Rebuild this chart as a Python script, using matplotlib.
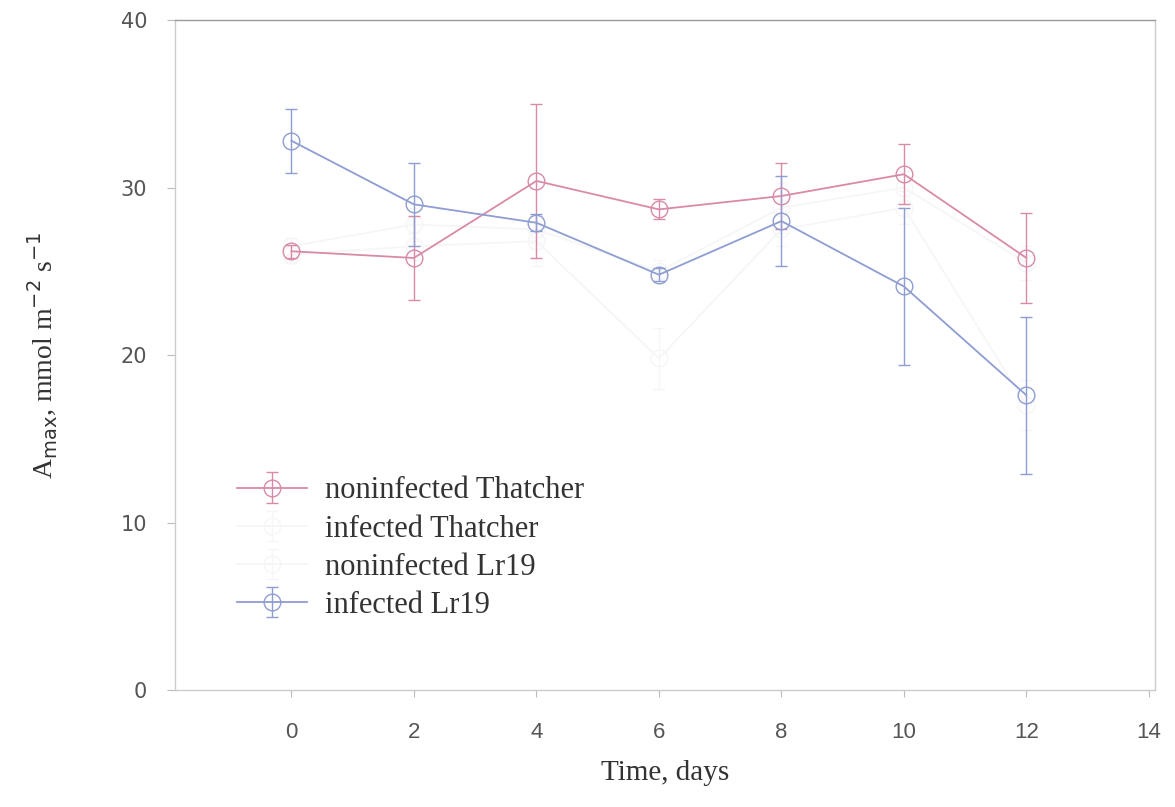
import matplotlib
import numpy as np

matplotlib.use("Agg")
import matplotlib.pyplot as plt

# values
days = [0, 2, 4, 6, 8, 10, 12]

noninf_thatcher = [26.2, 25.8, 30.4, 28.7, 29.5, 30.8, 25.8]
noninf_thatcher_err = [0.4, 2.5, 4.6, 0.6, 2.0, 1.8, 2.7]

inf_thatcher = [26.0, 26.5, 26.8, 19.8, 27.5, 28.8, 17.0]
inf_thatcher_err = [0.5, 0.8, 1.5, 1.8, 1.0, 1.0, 1.5]

noninf_lr19 = [26.5, 27.8, 27.5, 25.0, 28.8, 30.0, 25.5]
noninf_lr19_err = [0.5, 1.0, 0.8, 0.7, 1.5, 1.0, 1.0]

inf_lr19 = [32.8, 29.0, 27.9, 24.8, 28.0, 24.1, 17.6]
inf_lr19_err = [1.9, 2.5, 0.5, 0.4, 2.7, 4.7, 4.7]

labels = ["noninfected Thatcher", "infected Thatcher", "noninfected Lr19", "infected Lr19"]

pink = "#d98aa8"
blue = "#8e9dd2"
faint = "#f6f6f6"

fig = plt.figure(figsize=(11.75, 8.07), dpi=100)
ax = fig.add_axes([0.149, 0.145, 0.834, 0.83])

series = [
    (noninf_thatcher, noninf_thatcher_err, pink),
    (inf_thatcher, inf_thatcher_err, faint),
    (noninf_lr19, noninf_lr19_err, faint),
    (inf_lr19, inf_lr19_err, blue),
]
for (vals, err, col), lab in zip(series, labels):
    ax.errorbar(days, vals, yerr=err, color=col, marker="o", markersize=12,
                markerfacecolor="none", markeredgecolor=col, markeredgewidth=1.0,
                linewidth=1.3, elinewidth=1.0, capsize=4, capthick=1.0, label=lab,
                zorder=3 if col != faint else 1)

ax.set_xlim(-1.9, 14.1)
ax.set_ylim(0, 40)
ax.set_xticks(np.arange(0, 15, 2))
ax.set_yticks(np.arange(0, 41, 10))

for side in ["top", "left", "right", "bottom"]:
    ax.spines[side].set_color("#cccccc")
    ax.spines[side].set_linewidth(1.0)
ax.spines["top"].set_color("#999999")

ax.tick_params(axis="y", direction="out", length=6, color="#bbbbbb",
               labelcolor="#555555", labelsize=15, pad=14)
ax.tick_params(axis="x", direction="out", length=5, color="#bbbbbb",
               labelcolor="#555555", labelsize=16, pad=18)
for lbl in ax.get_xticklabels():
    lbl.set_family(["Liberation Sans Narrow", "Liberation Sans", "DejaVu Sans"])

ax.set_xlabel("Time, days", family="Liberation Serif", fontsize=21,
              color="#333333", labelpad=12)
ax.set_ylabel(r"A$_{\rm max}$, mmol m$^{-2}$ s$^{-1}$", family="Liberation Serif",
              fontsize=20, color="#333333", labelpad=44)

leg = ax.legend(loc="upper left", bbox_to_anchor=(0.035, 0.36), frameon=False,
                prop={"family": "Liberation Serif", "size": 22},
                handlelength=2.3, labelspacing=0.3, handletextpad=0.6)
for t in leg.get_texts():
    t.set_color("#333333")

fig.savefig("out.png", dpi=100)
